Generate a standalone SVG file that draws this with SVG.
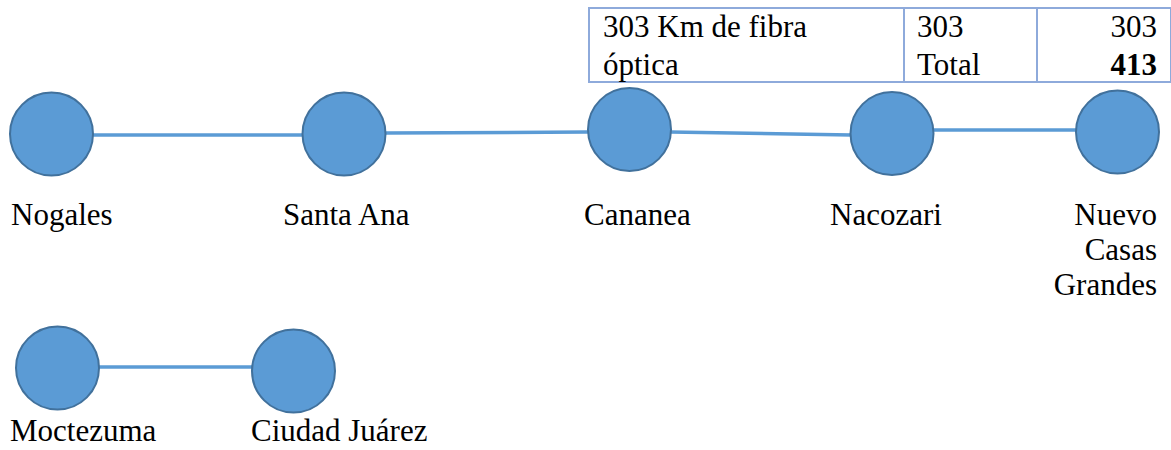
<svg xmlns="http://www.w3.org/2000/svg" width="1171" height="450" viewBox="0 0 1171 450">
<style>
.n{fill:#5b9bd5;stroke:#41719c;stroke-width:2}
.c{stroke:#5b9bd5;stroke-width:3.5;fill:none}
text{font-family:'Liberation Serif','Times New Roman','DejaVu Serif',serif;font-size:31px;fill:#000}
.b{stroke:#8eaadb;stroke-width:2;fill:none}
</style>
<rect width="1171" height="450" fill="#fff"/>
<g id="table" font-family="Liberation Serif, serif">
<rect class="b" x="589" y="8" width="582" height="74"/>
<line class="b" x1="904" y1="8" x2="904" y2="82"/>
<line class="b" x1="1037" y1="8" x2="1037" y2="82"/>
<text x="603" y="37">303 Km de fibra</text>
<text x="603" y="75">óptica</text>
<text x="917" y="37">303</text>
<text x="917" y="75">Total</text>
<text x="1157" y="37" text-anchor="end">303</text>
<text x="1157" y="75" text-anchor="end" font-weight="bold">413</text>
</g>
<g id="connectors">
<line class="c" x1="93" y1="135" x2="302" y2="135"/>
<line class="c" x1="386" y1="133" x2="588" y2="132"/>
<line class="c" x1="670" y1="132" x2="851" y2="135"/>
<line class="c" x1="934" y1="130" x2="1076" y2="130"/>
<line class="c" x1="99" y1="367" x2="252" y2="367"/>
</g>
<g id="nogales"><circle class="n" cx="51.5" cy="134" r="41.5"/><text x="11" y="225">Nogales</text></g>
<g id="santa-ana"><circle class="n" cx="344" cy="134" r="41.5"/><text x="283" y="225">Santa Ana</text></g>
<g id="cananea"><circle class="n" cx="629.5" cy="129.5" r="41.5"/><text x="584" y="225">Cananea</text></g>
<g id="nacozari"><circle class="n" cx="892" cy="133.5" r="41.5"/><text x="830" y="225">Nacozari</text></g>
<g id="nuevo-casas-grandes"><circle class="n" cx="1117.5" cy="132" r="41.5"/>
<text x="1157" y="225" text-anchor="end">Nuevo</text>
<text x="1157" y="260" text-anchor="end">Casas</text>
<text x="1157" y="295" text-anchor="end">Grandes</text></g>
<g id="moctezuma"><circle class="n" cx="57.5" cy="368" r="41.5"/><text x="10" y="441">Moctezuma</text></g>
<g id="ciudad-juarez"><circle class="n" cx="293.5" cy="371" r="41.5"/><text x="251" y="441">Ciudad Juárez</text></g>
</svg>
